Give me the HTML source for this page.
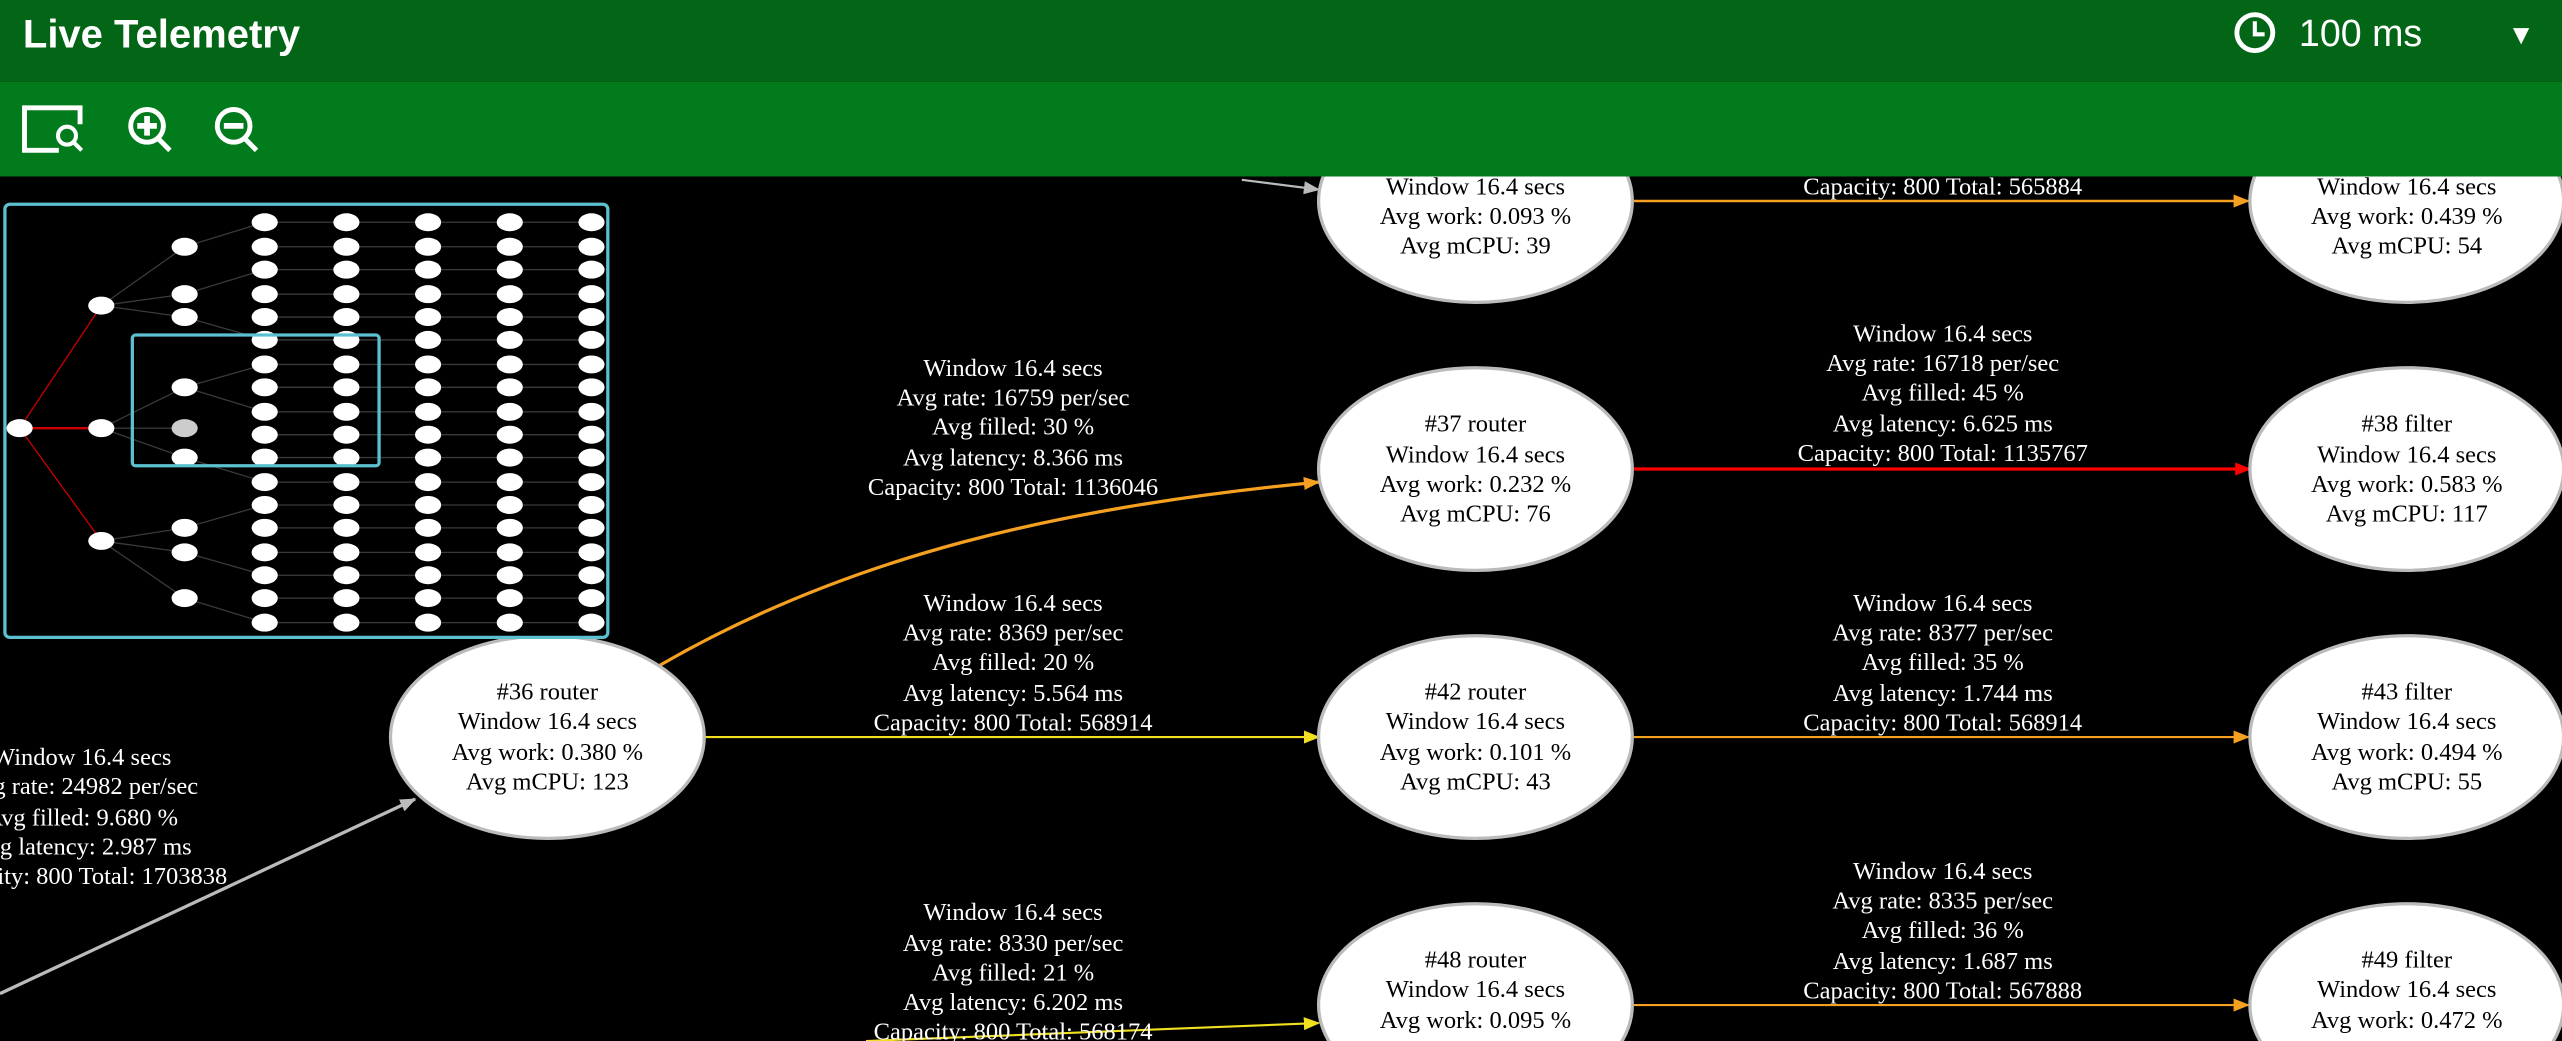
<!DOCTYPE html>
<html><head><meta charset="utf-8"><style>
html,body{margin:0;padding:0;background:#000;overflow:hidden;width:2562px;height:1041px}
svg{display:block;overflow:hidden}
</style></head><body>
<svg width="2562" height="1041" viewBox="0 0 1568 637" preserveAspectRatio="none" xmlns="http://www.w3.org/2000/svg">
<rect width="1568" height="637" fill="#000"/>
<defs>
<marker id="aG" markerWidth="10" markerHeight="8" refX="9" refY="4" orient="auto" markerUnits="userSpaceOnUse"><path d="M0,0L10,4L0,8z" fill="#bbb"/></marker>
<marker id="aO" markerWidth="10" markerHeight="8" refX="9" refY="4" orient="auto" markerUnits="userSpaceOnUse"><path d="M0,0L10,4L0,8z" fill="#f5a020"/></marker>
<marker id="aY" markerWidth="10" markerHeight="8" refX="9" refY="4" orient="auto" markerUnits="userSpaceOnUse"><path d="M0,0L10,4L0,8z" fill="#f0e020"/></marker>
<marker id="aR" markerWidth="10" markerHeight="8" refX="9" refY="4" orient="auto" markerUnits="userSpaceOnUse"><path d="M0,0L10,4L0,8z" fill="#ff0000"/></marker>
</defs>
<g fill="none">
<line x1="0" y1="608" x2="254" y2="489" stroke="#bbb" stroke-width="2" marker-end="url(#aG)"/>
<line x1="760" y1="110" x2="807" y2="116" stroke="#bbb" stroke-width="1.3" marker-end="url(#aG)"/>
<path d="M404,407 C520,340 650,310 807,295" stroke="#f5a020" stroke-width="2" marker-end="url(#aO)"/>
<line x1="430" y1="451" x2="807" y2="451" stroke="#f0e020" stroke-width="1.3" marker-end="url(#aY)"/>
<line x1="530" y1="637" x2="807" y2="626" stroke="#f0e020" stroke-width="1.3" marker-end="url(#aY)"/>
<line x1="1000" y1="123" x2="1376" y2="123" stroke="#f5a020" stroke-width="1.5" marker-end="url(#aO)"/>
<line x1="1000" y1="287" x2="1377" y2="287" stroke="#ff0000" stroke-width="2" marker-end="url(#aR)"/>
<line x1="1000" y1="451" x2="1376" y2="451" stroke="#f5a020" stroke-width="1.3" marker-end="url(#aO)"/>
<line x1="1000" y1="615" x2="1376" y2="615" stroke="#f5a020" stroke-width="1.3" marker-end="url(#aO)"/>
</g>
<g fill="#fff" stroke="#bbb" stroke-width="2">
<ellipse cx="335" cy="451" rx="96" ry="62"/>
<ellipse cx="903" cy="123" rx="96" ry="62"/>
<ellipse cx="1473" cy="123" rx="96" ry="62"/>
<ellipse cx="903" cy="287" rx="96" ry="62"/>
<ellipse cx="1473" cy="287" rx="96" ry="62"/>
<ellipse cx="903" cy="451" rx="96" ry="62"/>
<ellipse cx="1473" cy="451" rx="96" ry="62"/>
<ellipse cx="903" cy="615" rx="96" ry="62"/>
<ellipse cx="1473" cy="615" rx="96" ry="62"/>
</g>
<g font-family="Liberation Serif, serif" font-size="15" text-anchor="middle" fill="#000">
<text x="335" y="428">#36 router</text><text x="335" y="446">Window 16.4 secs</text><text x="335" y="465">Avg work: 0.380 %</text><text x="335" y="483">Avg mCPU: 123</text>
<text x="903" y="100">#31 router</text><text x="903" y="119">Window 16.4 secs</text><text x="903" y="137">Avg work: 0.093 %</text><text x="903" y="155">Avg mCPU: 39</text>
<text x="1473" y="100">#32 filter</text><text x="1473" y="119">Window 16.4 secs</text><text x="1473" y="137">Avg work: 0.439 %</text><text x="1473" y="155">Avg mCPU: 54</text>
<text x="903" y="264">#37 router</text><text x="903" y="283">Window 16.4 secs</text><text x="903" y="301">Avg work: 0.232 %</text><text x="903" y="319">Avg mCPU: 76</text>
<text x="1473" y="264">#38 filter</text><text x="1473" y="283">Window 16.4 secs</text><text x="1473" y="301">Avg work: 0.583 %</text><text x="1473" y="319">Avg mCPU: 117</text>
<text x="903" y="428">#42 router</text><text x="903" y="446">Window 16.4 secs</text><text x="903" y="465">Avg work: 0.101 %</text><text x="903" y="483">Avg mCPU: 43</text>
<text x="1473" y="428">#43 filter</text><text x="1473" y="446">Window 16.4 secs</text><text x="1473" y="465">Avg work: 0.494 %</text><text x="1473" y="483">Avg mCPU: 55</text>
<text x="903" y="592">#48 router</text><text x="903" y="610">Window 16.4 secs</text><text x="903" y="629">Avg work: 0.095 %</text>
<text x="1473" y="592">#49 filter</text><text x="1473" y="610">Window 16.4 secs</text><text x="1473" y="629">Avg work: 0.472 %</text>
</g>
<g font-family="Liberation Serif, serif" font-size="15" text-anchor="middle" fill="#fff">
<text x="50" y="468">Window 16.4 secs</text><text x="50" y="486">Avg rate: 24982 per/sec</text><text x="50" y="505">Avg filled: 9.680 %</text><text x="50" y="523">Avg latency: 2.987 ms</text><text x="50" y="541">Capacity: 800 Total: 1703838</text>
<text x="620" y="230">Window 16.4 secs</text><text x="620" y="248">Avg rate: 16759 per/sec</text><text x="620" y="266">Avg filled: 30 %</text><text x="620" y="285">Avg latency: 8.366 ms</text><text x="620" y="303">Capacity: 800 Total: 1136046</text>
<text x="620" y="374">Window 16.4 secs</text><text x="620" y="392">Avg rate: 8369 per/sec</text><text x="620" y="410">Avg filled: 20 %</text><text x="620" y="429">Avg latency: 5.564 ms</text><text x="620" y="447">Capacity: 800 Total: 568914</text>
<text x="620" y="563">Window 16.4 secs</text><text x="620" y="582">Avg rate: 8330 per/sec</text><text x="620" y="600">Avg filled: 21 %</text><text x="620" y="618">Avg latency: 6.202 ms</text><text x="620" y="636">Capacity: 800 Total: 568174</text>
<text x="1189" y="119">Capacity: 800 Total: 565884</text>
<text x="1189" y="209">Window 16.4 secs</text><text x="1189" y="227">Avg rate: 16718 per/sec</text><text x="1189" y="245">Avg filled: 45 %</text><text x="1189" y="264">Avg latency: 6.625 ms</text><text x="1189" y="282">Capacity: 800 Total: 1135767</text>
<text x="1189" y="374">Window 16.4 secs</text><text x="1189" y="392">Avg rate: 8377 per/sec</text><text x="1189" y="410">Avg filled: 35 %</text><text x="1189" y="429">Avg latency: 1.744 ms</text><text x="1189" y="447">Capacity: 800 Total: 568914</text>
<text x="1189" y="538">Window 16.4 secs</text><text x="1189" y="556">Avg rate: 8335 per/sec</text><text x="1189" y="574">Avg filled: 36 %</text><text x="1189" y="593">Avg latency: 1.687 ms</text><text x="1189" y="611">Capacity: 800 Total: 567888</text>
</g>
<rect x="3" y="125" width="369" height="265" rx="3" fill="#000" stroke="#5bc0d0" stroke-width="2"/>
<g stroke-width="0.8" fill="none">
<line x1="12" y1="262" x2="62" y2="187" stroke="#c00"/>
<line x1="12" y1="262" x2="62" y2="262" stroke="#c00" stroke-width="1.5"/>
<line x1="12" y1="262" x2="62" y2="331" stroke="#c00"/>
<g stroke="#3a3a3a">
<path d="M62,187 L113,151 M62,187 L113,180 M62,187 L113,194 M62,262 L113,237 M62,262 L113,262 M62,262 L113,280 M62,331 L113,323 M62,331 L113,338 M62,331 L113,366"/>
<path d="M113,151 L162,136 M113,180 L162,165 M113,237 L162,223 M113,237 L162,252 M113,280 L162,295 M113,323 L162,309 M113,338 L162,352 M113,366 L162,381 M113,194 L162,208"/>
<path d="M162,136H362M162,151H362M162,165H362M162,180H362M162,194H362M162,208H362M162,223H362M162,237H362M162,252H362M162,266H362M162,280H362M162,295H362M162,309H362M162,323H362M162,338H362M162,352H362M162,366H362M162,381H362"/>
</g>
</g>
<g fill="#fff">
<ellipse cx="12" cy="262" rx="8" ry="5.5"/>
<ellipse cx="62" cy="187" rx="8" ry="5.5"/><ellipse cx="62" cy="262" rx="8" ry="5.5"/><ellipse cx="62" cy="331" rx="8" ry="5.5"/>
<ellipse cx="113" cy="151" rx="8" ry="5.5"/><ellipse cx="113" cy="180" rx="8" ry="5.5"/><ellipse cx="113" cy="194" rx="8" ry="5.5"/><ellipse cx="113" cy="237" rx="8" ry="5.5"/><ellipse cx="113" cy="262" rx="8" ry="5.5" fill="#ccc"/><ellipse cx="113" cy="280" rx="8" ry="5.5"/><ellipse cx="113" cy="323" rx="8" ry="5.5"/><ellipse cx="113" cy="338" rx="8" ry="5.5"/><ellipse cx="113" cy="366" rx="8" ry="5.5"/>
</g>
<g fill="#fff">
<g id="c1">
<ellipse cx="162" cy="136" rx="8" ry="5.5"/><ellipse cx="162" cy="151" rx="8" ry="5.5"/><ellipse cx="162" cy="165" rx="8" ry="5.5"/><ellipse cx="162" cy="180" rx="8" ry="5.5"/><ellipse cx="162" cy="194" rx="8" ry="5.5"/><ellipse cx="162" cy="208" rx="8" ry="5.5"/><ellipse cx="162" cy="223" rx="8" ry="5.5"/><ellipse cx="162" cy="237" rx="8" ry="5.5"/><ellipse cx="162" cy="252" rx="8" ry="5.5"/><ellipse cx="162" cy="266" rx="8" ry="5.5"/><ellipse cx="162" cy="280" rx="8" ry="5.5"/><ellipse cx="162" cy="295" rx="8" ry="5.5"/><ellipse cx="162" cy="309" rx="8" ry="5.5"/><ellipse cx="162" cy="323" rx="8" ry="5.5"/><ellipse cx="162" cy="338" rx="8" ry="5.5"/><ellipse cx="162" cy="352" rx="8" ry="5.5"/><ellipse cx="162" cy="366" rx="8" ry="5.5"/><ellipse cx="162" cy="381" rx="8" ry="5.5"/>
</g>
<use href="#c1" x="50"/><use href="#c1" x="100"/><use href="#c1" x="150"/><use href="#c1" x="200"/>
</g>
<rect x="81" y="205" width="151" height="80" rx="2" fill="none" stroke="#5bc0d0" stroke-width="2"/>
<rect x="0" y="0" width="1568" height="50" fill="#036516"/>
<rect x="0" y="50" width="1568" height="58" fill="#027b1c"/>
<text x="14" y="29" font-family="Liberation Sans, sans-serif" font-size="24.5" font-weight="bold" fill="#fff">Live Telemetry</text>
<circle cx="1380" cy="20" r="11" fill="none" stroke="#fff" stroke-width="3"/>
<path d="M1380,13V21H1386" fill="none" stroke="#fff" stroke-width="2.5"/>
<text x="1407" y="28" font-family="Liberation Sans, sans-serif" font-size="23" fill="#fff">100 ms</text>
<text x="1543" y="27" font-family="Liberation Sans, sans-serif" font-size="17" text-anchor="middle" fill="#fff">▼</text>
<g fill="none" stroke="#fff" stroke-width="3">
<path d="M36,92H15V66H49V76"/>
<circle cx="41" cy="83" r="5.5" stroke-width="2.5"/><path d="M45,87L50,92" stroke-width="2.5"/>
<circle cx="90" cy="77" r="10"/><path d="M97,85L104,92"/>
<circle cx="143" cy="77" r="10"/><path d="M150,85L157,92"/>
</g>
<path d="M90,71V83M84,77H96" stroke="#fff" stroke-width="3.5"/>
<path d="M137,77H149" stroke="#fff" stroke-width="3.5"/>
</svg>
</body></html>
